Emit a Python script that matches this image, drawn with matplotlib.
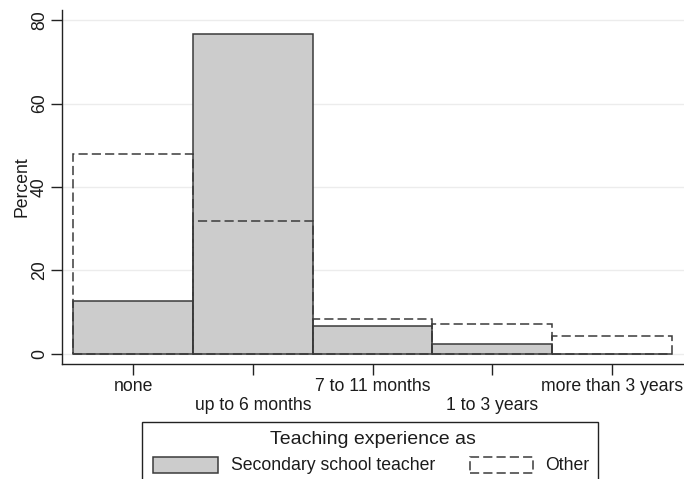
import matplotlib
matplotlib.use("Agg")
import matplotlib.pyplot as plt
from matplotlib.patches import Rectangle

# Teaching experience distribution (percent of respondents)
categories = ["none", "up to 6 months", "7 to 11 months", "1 to 3 years", "more than 3 years"]
secondary_teacher = [12.8, 76.6, 6.8, 2.5, 0.0]
other = [47.8, 31.8, 8.4, 7.2, 4.2]
y_ticks = [0, 20, 40, 60, 80]

W, H = 684, 479
plt.rcParams["font.family"] = ["Liberation Sans", "DejaVu Sans"]
TXT = "#1c1c1c"
EDGE = "#3a3a3a"
GRAY = "#cccccc"
FS = 12.7

fig = plt.figure(figsize=(W / 100, H / 100), dpi=100)
fig.patch.set_facecolor("white")

def px(x0, y0, x1, y1):
    """Pixel box (top-left origin) -> figure fraction [l, b, w, h]."""
    return [x0 / W, 1 - y1 / H, (x1 - x0) / W, (y1 - y0) / H]

ax = fig.add_axes(px(62, 10, 684, 364))
ax.set_xlim(-0.593, 4.601)
ax.set_ylim(-2.4, 82.4)

for s in ("top", "right"):
    ax.spines[s].set_visible(False)
for s in ("left", "bottom"):
    ax.spines[s].set_color("#222222")
    ax.spines[s].set_linewidth(1.0)

# faint horizontal grid
for v in y_ticks:
    ax.axhline(v, color="#ececec", lw=1.0, zorder=0)

x = list(range(len(categories)))
ax.bar(x, secondary_teacher, width=1.0, color=GRAY, edgecolor=EDGE,
       linewidth=1.1, zorder=2)
ax.bar(x, other, width=1.0, fill=False, edgecolor=EDGE, linewidth=1.1,
       linestyle=(0, (6, 2.7)), zorder=3)

ax.set_yticks(y_ticks)
ax.set_yticklabels([str(v) for v in y_ticks], rotation=90, va="center",
                   fontsize=FS, color=TXT)
ax.tick_params(axis="y", length=8, width=1.0, pad=2.0, color="#222222")

ax.set_xticks(x)
ax.set_xticklabels(categories, fontsize=FS, color=TXT)
ax.tick_params(axis="x", length=8, width=1.0, pad=2.2, color="#222222")
for i, t in enumerate(ax.xaxis.get_major_ticks()):
    if i % 2 == 1:
        t.set_pad(15.8)

ax.set_ylabel("Percent", fontsize=FS, color=TXT, va="center")
ax.yaxis.set_label_coords((22.5 - 62) / 622, 0.5)

# legend box (extends past the bottom edge)
fig.add_artist(Rectangle((142 / W, 1 - 500 / H), (598 - 142) / W, (500 - 422) / H,
                         transform=fig.transFigure, fill=False,
                         edgecolor="#222222", lw=1.0))
fig.text(373 / W, 1 - 439 / H, "Teaching experience as", ha="center",
         va="center", fontsize=14, color=TXT)
fig.add_artist(Rectangle((153 / W, 1 - 473 / H), (218 - 153) / W, (473 - 457) / H,
                         transform=fig.transFigure, facecolor=GRAY,
                         edgecolor=EDGE, lw=1.1))
fig.text(231 / W, 1 - 466 / H, "Secondary school teacher", ha="left",
         va="center", fontsize=FS, color=TXT)
fig.add_artist(Rectangle((470 / W, 1 - 473 / H), (533 - 470) / W, (473 - 457) / H,
                         transform=fig.transFigure, fill=False,
                         edgecolor=EDGE, lw=1.1, linestyle=(0, (6, 2.7))))
fig.text(545 / W, 1 - 466 / H, "Other", ha="left", va="center",
         fontsize=FS, color=TXT)

fig.savefig("out.png", dpi=100)
